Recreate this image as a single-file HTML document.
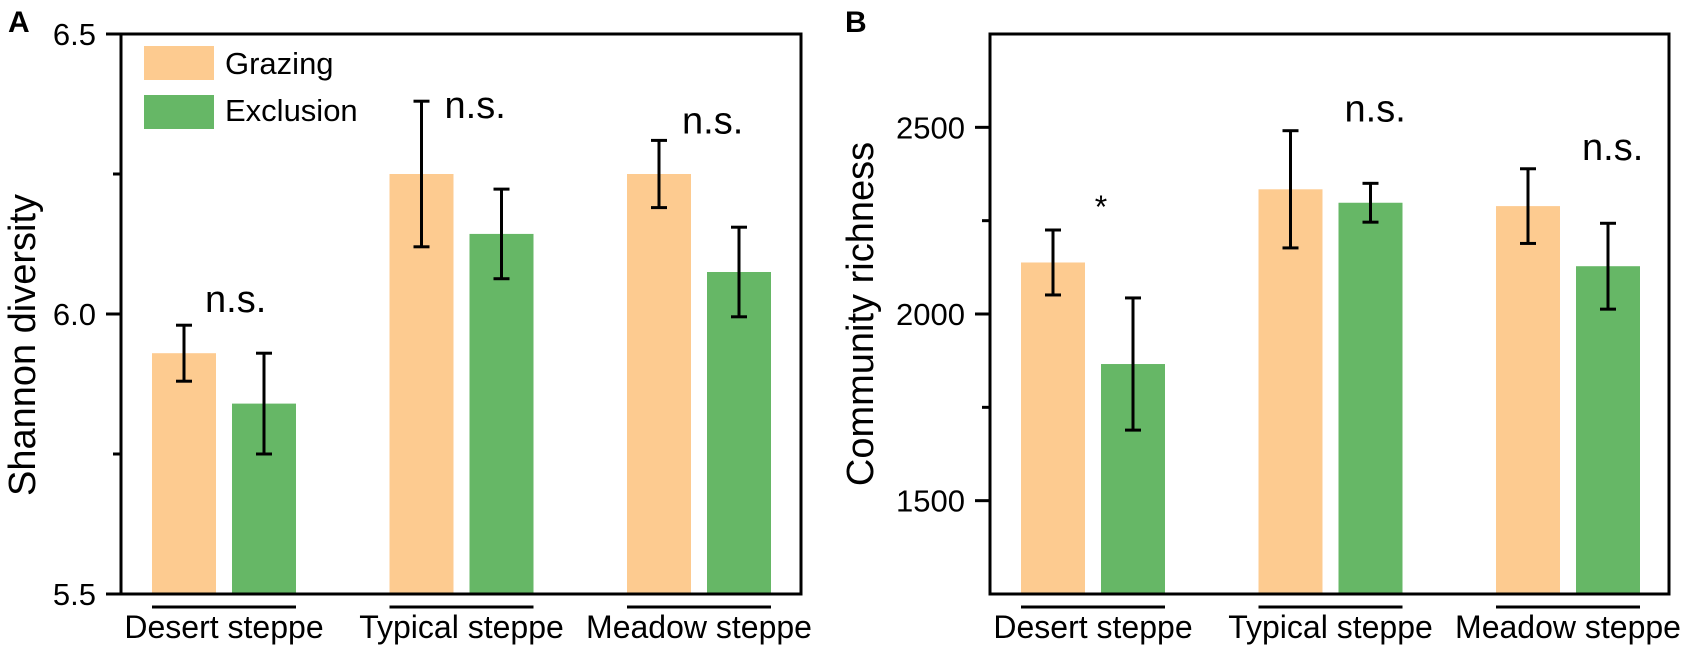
<!DOCTYPE html>
<html><head><meta charset="utf-8"><style>
html,body{margin:0;padding:0;background:#fff;}
svg{display:block;font-family:"Liberation Sans",Arial,sans-serif;}
</style></head><body>
<svg id="fig" width="1700" height="655" viewBox="0 0 1700 655" xmlns="http://www.w3.org/2000/svg"></svg>
<script>
const categories = ["Desert steppe","Typical steppe","Meadow steppe"];
const seriesNames = ["Grazing","Exclusion"];
const shannonGrazing = [5.93, 6.25, 6.25];
const shannonGrazingErr = [0.05, 0.13, 0.06];
const shannonExclusion = [5.84, 6.143, 6.075];
const shannonExclusionErr = [0.09, 0.08, 0.08];
const shannonTicks = [5.5, 6.0, 6.5];
const shannonTickLabels = ["5.5","6.0","6.5"];
const shannonMinor = [5.75, 6.25];
const shannonSig = ["n.s.","n.s.","n.s."];
const richGrazing = [2138, 2334, 2289];
const richGrazingErr = [87, 157, 100];
const richExclusion = [1866, 2298, 2128];
const richExclusionErr = [177, 52, 115];
const richTicks = [1500, 2000, 2500];
const richTickLabels = ["1500","2000","2500"];
const richMinor = [1750, 2250];
const richSig = ["*","n.s.","n.s."];

const NS = "http://www.w3.org/2000/svg";
const svg = document.getElementById("fig");
function mk(tag, attrs, parent){
  const e = document.createElementNS(NS, tag);
  for (const k in attrs) e.setAttribute(k, attrs[k]);
  (parent||svg).appendChild(e);
  return e;
}
const COL = ["#FDCB90", "#66B766"];

function panel(cfg){
  const g = mk("g", {});
  
  
  const L = cfg.x0, R = cfg.x1, T = 34, B = 594;
  const y = v => B - (v - cfg.min) / (cfg.max - cfg.min) * (B - T);
  for (let i = 0; i < categories.length; i++) {
    const gx = L + cfg.firstOff + i * cfg.step;
    const vals = [cfg.g[i], cfg.e[i]], errs = [cfg.ge[i], cfg.ee[i]];
    for (let s = 0; s < 2; s++) {
      const bx = gx + s * 80;
      const r = mk("rect", {x: bx, y: y(vals[s]), width: 64, height: B - y(vals[s]), fill: COL[s]}, g);
      
      
      const cx = bx + 32, yt = y(vals[s] + errs[s]), yb = y(vals[s] - errs[s]);
      const eg = mk("g", {stroke: "#000", "stroke-width": 3}, g);
      
      
      mk("line", {x1: cx, x2: cx, y1: yt, y2: yb}, eg);
      mk("line", {x1: cx - 8, x2: cx + 8, y1: yt, y2: yt}, eg);
      mk("line", {x1: cx - 8, x2: cx + 8, y1: yb, y2: yb}, eg);
    }
    const ul = mk("line", {x1: gx, x2: gx + 144, y1: 607, y2: 607, stroke: "#000", "stroke-width": 3}, g);
    
    
    const t = mk("text", {x: gx + 72, y: 638, "font-size": 32, "text-anchor": "middle"}, g);
    t.textContent = categories[i];
    
    
    const sig = cfg.sig[i];
    const st = mk("text", {x: gx + 32 + (sig === "*" ? 48 : 54) + cfg.sigDx[i], y: (sig === "*" ? y(cfg.g[i] + cfg.ge[i]) - 12 : y(cfg.g[i] + cfg.ge[i]) - 9) + cfg.sigDy[i], "font-size": sig === "*" ? 32 : 38, "text-anchor": sig === "*" ? "middle" : "start"}, g);
    st.textContent = sig;
    
    
  }
  const fr = mk("rect", {x: L, y: T, width: R - L, height: B - T, fill: "none", stroke: "#000", "stroke-width": 3}, g);
  
  
  cfg.ticks.forEach((v, k) => {
    mk("line", {x1: L - 15, x2: L, y1: y(v), y2: y(v), stroke: "#000", "stroke-width": 3}, g);
    const tl = mk("text", {x: L - 25, y: y(v) + 11, "font-size": 31, "text-anchor": "end"}, g);
    tl.textContent = cfg.tickLabels[k];
    
    
  });
  cfg.minor.forEach(v => mk("line", {x1: L - 8, x2: L, y1: y(v), y2: y(v), stroke: "#000", "stroke-width": 3}, g));
  const yt = mk("text", {x: cfg.titleX, y: cfg.titleY, "font-size": 38, "text-anchor": "middle", transform: "rotate(-90 " + cfg.titleX + " " + cfg.titleY + ")"}, g);
  yt.textContent = cfg.title;
  
  
  const lt = mk("text", {x: cfg.letterX, y: 32, "font-size": 30, "font-weight": "bold"}, g);
  lt.textContent = cfg.letter;
  
  
  return g;
}

panel({name: "panel-a-shannon", x0: 121, x1: 801, min: 5.5, max: 6.5, firstOff: 31, step: 237.5,
  g: shannonGrazing, ge: shannonGrazingErr, e: shannonExclusion, ee: shannonExclusionErr,
  ticks: shannonTicks, tickLabels: shannonTickLabels, minor: shannonMinor, sig: shannonSig,
  sigDx: [-33, -31, -31], sigDy: [-4, 26, 2],
  title: "Shannon diversity", titleX: 35, titleY: 345, letter: "A", letterX: 8});
panel({name: "panel-b-richness", x0: 990, x1: 1669, min: 1250, max: 2750, firstOff: 31, step: 237.5,
  g: richGrazing, ge: richGrazingErr, e: richExclusion, ee: richExclusionErr,
  ticks: richTicks, tickLabels: richTickLabels, minor: richMinor, sig: richSig,
  sigDx: [0, 0, 0], sigDy: [0, 0, 0],
  title: "Community richness", titleX: 873, titleY: 314, letter: "B", letterX: 845});

const lg = mk("g", {});


seriesNames.forEach((n, i) => {
  const r = mk("rect", {x: 144, y: 46 + i * 49, width: 70, height: 34, fill: COL[i]}, lg);
  
  
  const t = mk("text", {x: 225, y: 74 + i * 47, "font-size": 31}, lg);
  t.textContent = n;
  
  
});
</script>
</body></html>
